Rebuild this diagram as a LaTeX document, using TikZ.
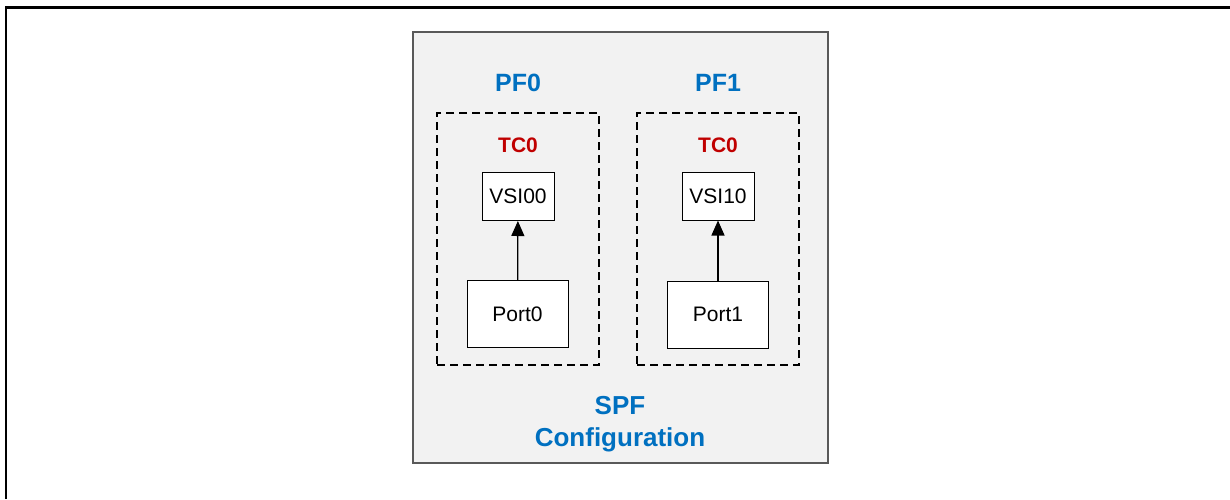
\documentclass[tikz,border=0pt]{standalone}
\usepackage{fontspec}
\setmainfont{Liberation Sans}
\usetikzlibrary{arrows.meta}
\definecolor{pfblue}{HTML}{0070C0}
\definecolor{tcred}{HTML}{C00000}
\tikzset{
  cfg/.style    = {rectangle, draw=black!65, fill=black!5, line width=1.2pt, minimum width=415pt, minimum height=431pt},
  pfbox/.style  = {rectangle, draw, line width=1.4pt, dash pattern=on 8pt off 5pt, minimum width=162pt, minimum height=252pt},
  vsi/.style    = {rectangle, draw, fill=white, line width=1pt, minimum width=72pt, minimum height=48pt, font=\fontsize{21}{24}\selectfont},
  port/.style   = {rectangle, draw, fill=white, line width=1pt, minimum width=101pt, minimum height=67pt, font=\fontsize{21}{24}\selectfont},
  pflab/.style  = {text=pfblue, font=\fontsize{25}{30}\selectfont\bfseries},
  tclab/.style  = {text=tcred, font=\fontsize{21}{24}\selectfont\bfseries},
  link/.style   = {line width=1.2pt, -{Triangle[width=13pt,length=15pt]}}
}

\begin{document}
\begin{tikzpicture}[x=1pt, y=-1pt]
  \useasboundingbox (0,0) rectangle (1230,499);
  \draw[line width=2.5pt] (6,499) -- (6,7.5) -- (1230,7.5);
  \node[cfg] (spf) at (620.5,247.5) {};
  % PF0
  \node[pfbox] (pf0) at (518,239) {};
  \node[pflab] (pf0lab) at (518,83) {PF0};
  \node[tclab] (tc0a) at (518,145) {TC0};
  \node[vsi]  (vsi00) at (518,196.5) {VSI00};
  \node[port] (port0) at (517.5,314) {Port0};
  \draw[link] (port0) -- (vsi00);
  % PF1
  \node[pfbox] (pf1) at (718,239) {};
  \node[pflab] (pf1lab) at (718,83) {PF1};
  \node[tclab] (tc0b) at (718,145) {TC0};
  \node[vsi]  (vsi10) at (718,196) {VSI10};
  \node[port] (port1) at (718,314.5) {Port1};
  \draw[link] (port1) -- (vsi10);
  \node[pflab, align=center, font=\fontsize{26}{32}\selectfont\bfseries] (spflab) at (620,424) {SPF\\Configuration};
\end{tikzpicture}
\end{document}
